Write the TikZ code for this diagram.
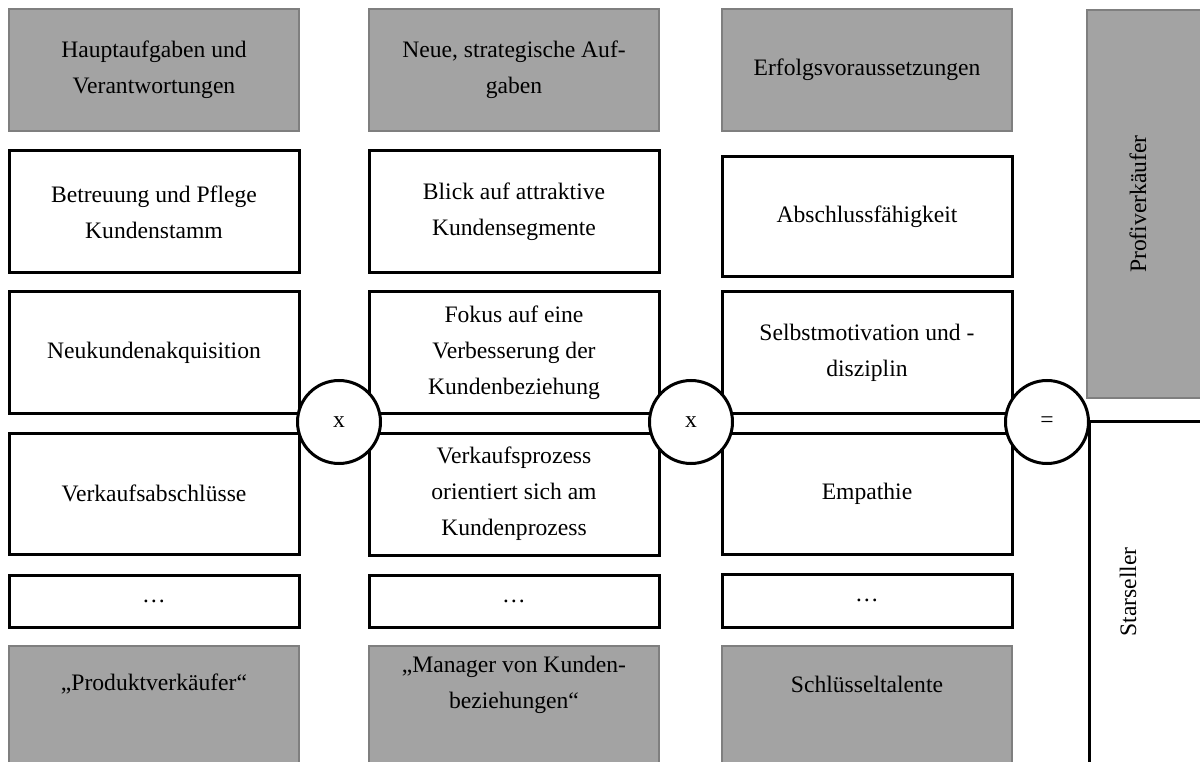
\documentclass[tikz,border=0pt]{standalone}
\usepackage{fontspec}
\setmainfont{Liberation Serif}
\definecolor{panelgray}{HTML}{A3A3A3}
\definecolor{paneledge}{HTML}{7F7F7F}
\begin{document}
\begin{tikzpicture}[x=1pt,y=-1pt,
  every node/.style={font=\fontsize{23.6}{36}\selectfont, align=center, inner sep=0pt},
  itembox/.style={draw=black, line width=3pt, fill=white, minimum width=290pt},
  headbox/.style={draw=paneledge, line width=2pt, fill=panelgray, minimum width=290pt, minimum height=122pt},
  graypanel/.style={draw=paneledge, line width=2pt, fill=panelgray},
  opcircle/.style={circle, draw=black, line width=3pt, fill=white, minimum size=83pt}
]
\useasboundingbox (0,0) rectangle (1200,762);
\clip (0,0) rectangle (1200,762);

% column headers
\node[headbox] (h1) at (154,70) {Hauptaufgaben und\\Verantwortungen};
\node[headbox] (h2) at (514,70) {Neue, strategische Auf-\\gaben};
\node[headbox] (h3) at (867,70) {Erfolgsvoraussetzungen};

% column 1
\node[itembox, minimum height=122pt] (a1) at (154,212) {Betreuung und Pflege\\Kundenstamm};
\node[itembox, minimum height=121pt] (b1) at (154,352.5) {Neukundenakquisition};
\node[itembox, minimum height=121pt] (c1) at (154,493.5) {Verkaufsabschlüsse};
\node[itembox, minimum height=52pt] (d1) at (154,601) {…};

% column 2
\node[itembox, minimum height=122pt] (a2) at (514,212) {Blick auf attraktive\\Kundensegmente};
\node[itembox, minimum height=121pt] (b2) at (514,352.5) {Fokus auf eine\\Verbesserung der\\Kundenbeziehung};
\node[itembox, minimum height=122pt] (c2) at (514,494) {Verkaufsprozess\\orientiert sich am\\Kundenprozess};
\node[itembox, minimum height=52pt] (d2) at (514,601) {…};

% column 3
\node[itembox, minimum height=120pt] (a3) at (867,217) {Abschlussfähigkeit};
\node[itembox, minimum height=121pt] (b3) at (867,352.5) {Selbstmotivation und -\\disziplin};
\node[itembox, minimum height=121pt] (c3) at (867,493.5) {Empathie};
\node[itembox, minimum height=53pt] (d3) at (867,600.5) {…};

% result types at the bottom
\draw[graypanel] (9,646) rectangle (299,800);
\draw[graypanel] (369,646) rectangle (659,800);
\draw[graypanel] (722,646) rectangle (1012,800);
\node (f1) at (154,684) {„Produktverkäufer“};
\node (f2) at (514,685) {„Manager von Kunden-\\beziehungen“};
\node (f3) at (867,684) {Schlüsseltalente};

% outcome panels on the right
\draw[graypanel] (1087,10) rectangle (1220,398);
\node[rotate=90] (pro) at (1138,204) {Profiverkäufer};
\draw[line width=3pt] (1089,421) rectangle (1220,800);
\node[rotate=90] (star) at (1128,592) {Starseller};

% operators between the columns
\node[opcircle] (k1) at (339,422) {x};
\node[opcircle] (k2) at (691,422) {x};
\node[opcircle] (k3) at (1047,422) {=};
\end{tikzpicture}
\end{document}
